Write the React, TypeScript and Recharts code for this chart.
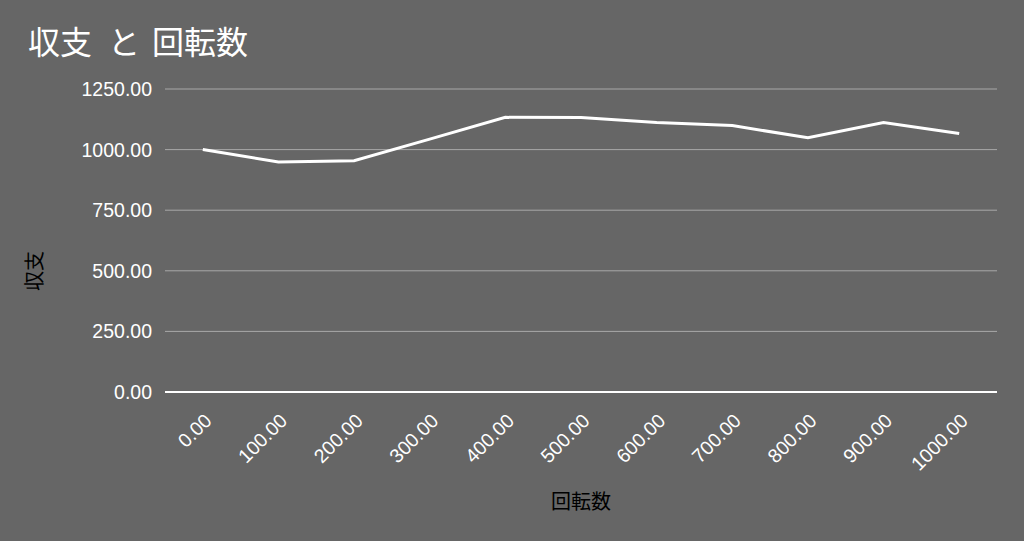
import { LineChart, Line, XAxis, YAxis, CartesianGrid, ReferenceLine } from 'recharts';

// 回転数 (x categories) and 収支 values
const spins = ['0.00', '100.00', '200.00', '300.00', '400.00', '500.00', '600.00', '700.00', '800.00', '900.00', '1000.00'];
const balance = [1000, 949, 954, 1043, 1133, 1132, 1112, 1099, 1049, 1112, 1066];
const yTicks = [0, 250, 500, 750, 1000, 1250];

const chartData = spins.map((s, i) => ({ spin: s, value: balance[i] }));

const FONT = '"Liberation Sans", Arial, "Noto Sans CJK JP", sans-serif';
const CJK = '"Noto Sans CJK JP", sans-serif';

// rotated x tick labels
function XTick(props: any) {
  const { x, y, payload } = props;
  const ax = x + 10;
  const ay = y + 22;
  return (
    <text
      x={ax}
      y={ay}
      textAnchor="end"
      fill="#ffffff"
      fontSize={19.5}
      fontFamily={FONT}
      transform={`rotate(-45, ${ax}, ${ay})`}
    >
      {payload.value}
    </text>
  );
}

export default function App() {
  return (
    <div style={{ position: 'absolute', left: 0, top: 0, width: 1024, height: 541, background: '#666666' }}>
      <LineChart width={1024} height={541} data={chartData} margin={{ top: 89, right: 27, bottom: 0, left: 0 }}>
        <text x={28} y={54} fill="#ffffff" fontSize={32} fontFamily={CJK}>
          <tspan>収支</tspan>
          <tspan dx={16}>と</tspan>
          <tspan dx={12}>回転数</tspan>
        </text>
        <text
          x={42}
          y={271}
          fill="#000000"
          fontSize={20}
          fontFamily={CJK}
          textAnchor="middle"
          transform="rotate(-90, 42, 271)"
        >
          収支
        </text>
        <text x={581} y={509} fill="#000000" fontSize={20} fontFamily={CJK} textAnchor="middle">
          回転数
        </text>
        <CartesianGrid vertical={false} stroke="#a8a8a8" strokeWidth={1} />
        <XAxis
          dataKey="spin"
          height={149}
          padding={{ left: 37.8, right: 37.8 }}
          axisLine={false}
          tickLine={false}
          interval={0}
          tick={<XTick />}
        />
        <YAxis
          width={165}
          domain={[0, 1250]}
          ticks={yTicks}
          tickFormatter={(v: number) => v.toFixed(2)}
          axisLine={false}
          tickLine={false}
          tickSize={0}
          tickMargin={13}
          tick={{ fill: '#ffffff', fontSize: 19.5, fontFamily: FONT }}
        />
        <ReferenceLine y={0} stroke="#ffffff" strokeWidth={2} />
        <Line
          type="linear"
          dataKey="value"
          stroke="#ffffff"
          strokeWidth={3}
          dot={false}
          isAnimationActive={false}
        />
      </LineChart>
    </div>
  );
}
